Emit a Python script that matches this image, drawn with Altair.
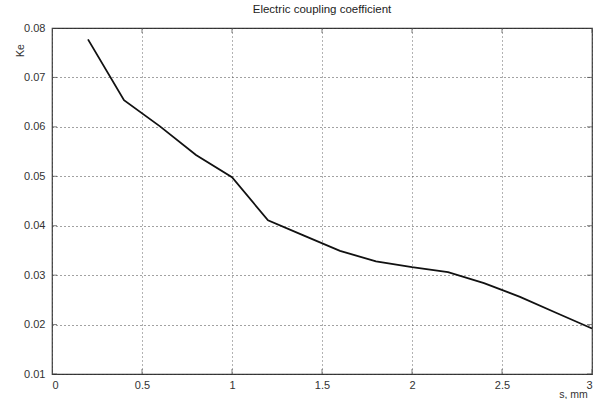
import altair as alt
import pandas as pd

s_mm = [0.2, 0.4, 0.6, 0.8, 1.0, 1.2, 1.4, 1.6, 1.8, 2.0, 2.2, 2.4, 2.6, 2.8, 3.0]
ke = [0.0777, 0.0654, 0.0601, 0.0543, 0.0498, 0.0411, 0.0380, 0.0349, 0.0328, 0.0316, 0.0306, 0.0284, 0.0256, 0.0224, 0.0192]
x_ticks = [0, 0.5, 1, 1.5, 2, 2.5, 3]
y_ticks = [0.01, 0.02, 0.03, 0.04, 0.05, 0.06, 0.07, 0.08]

df = pd.DataFrame({"s": s_mm, "ke": ke})
xt = pd.DataFrame({"x": x_ticks})
yt = pd.DataFrame({"y": y_ticks})

W, H = 540, 346
FONT = "Liberation Sans"

xs = alt.Scale(domain=[0, 3], nice=False, zero=False)
ys = alt.Scale(domain=[0.01, 0.08], nice=False, zero=False)

line = alt.Chart(df).mark_line(color="#111111", strokeWidth=1.8).encode(
    x=alt.X("s:Q", scale=xs, title="s, mm",
            axis=alt.Axis(values=x_ticks, format="~g", grid=True, gridDash=[1, 3],
                          gridColor="#666666", gridOpacity=1, ticks=False, domain=False,
                          labelFont=FONT, labelFontSize=11, labelColor="#333333", labelPadding=5,
                          titleFont=FONT, titleFontSize=10.5, titleFontWeight="normal",
                          titleColor="#333333", titleX=521, titleY=20, titleAlign="center",
                          titleBaseline="middle")),
    y=alt.Y("ke:Q", scale=ys, title="Ke",
            axis=alt.Axis(values=y_ticks, format=".2f", grid=True, gridDash=[1, 3],
                          gridColor="#444444", gridOpacity=1, ticks=False, domain=False,
                          labelFont=FONT, labelFontSize=11, labelColor="#333333", labelPadding=7,
                          titleFont=FONT, titleFontSize=10.5, titleFontWeight="normal",
                          titleColor="#333333", titleX=-32, titleY=22, titleAlign="center",
                          titleBaseline="middle")),
)

tick_bottom = alt.Chart(xt).mark_tick(clip=True, size=10, thickness=1, color="#444444", orient="vertical").encode(
    x=alt.X("x:Q", scale=xs), y=alt.datum(0.01, scale=ys))
tick_top = alt.Chart(xt).mark_tick(clip=True, size=10, thickness=1, color="#444444", orient="vertical").encode(
    x=alt.X("x:Q", scale=xs), y=alt.datum(0.08, scale=ys))
tick_left = alt.Chart(yt).mark_tick(clip=True, size=10, thickness=1, color="#444444", orient="horizontal").encode(
    y=alt.Y("y:Q", scale=ys), x=alt.datum(0, scale=xs))
tick_right = alt.Chart(yt).mark_tick(clip=True, size=10, thickness=1, color="#444444", orient="horizontal").encode(
    y=alt.Y("y:Q", scale=ys), x=alt.datum(3, scale=xs))

chart = alt.layer(line, tick_bottom, tick_top, tick_left, tick_right).properties(
    width=W, height=H,
    title=alt.TitleParams("Electric coupling coefficient", font=FONT, fontSize=11.5,
                          fontWeight="normal", color="#222222", anchor="middle", offset=7),
    autosize=alt.AutoSizeParams(type="none"),
    padding={"left": 52, "top": 28, "right": 14, "bottom": 25},
    background="white",
).configure_view(stroke="#333333", strokeWidth=1.2)

chart.save("out.html", embed_options={"renderer": "svg", "actions": False})
